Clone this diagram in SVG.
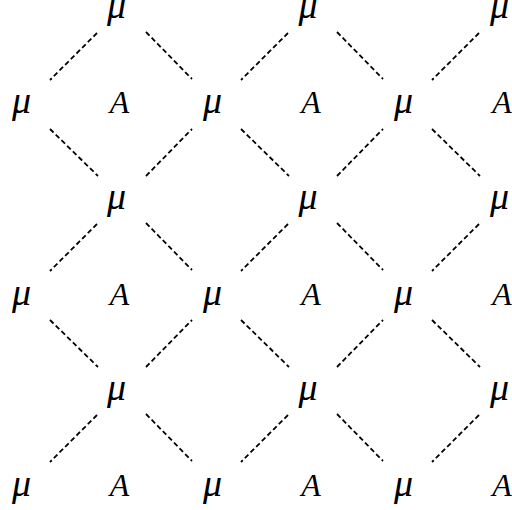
<svg xmlns="http://www.w3.org/2000/svg" width="512" height="510" viewBox="0 0 512 510">
<style>
.c line{stroke:#000;stroke-width:1.8;stroke-dasharray:5,3;fill:none}
.mu{font-family:"Liberation Serif","Times New Roman",serif;font-style:italic;font-size:38px;text-anchor:middle;fill:#000}
.aa{font-family:"Liberation Serif","Times New Roman",serif;font-style:italic;font-size:32px;text-anchor:middle;fill:#000}
</style>
<rect width="512" height="510" fill="#fff"/>
<g id="connectors" class="c">
<line x1="97" y1="33" x2="50" y2="80"/><line x1="146" y1="32" x2="192" y2="79"/>
<line x1="288" y1="33" x2="241" y2="80"/><line x1="337" y1="32" x2="383" y2="79"/>
<line x1="479" y1="33" x2="432" y2="80"/>
<line x1="50" y1="129" x2="98" y2="176"/><line x1="146" y1="176" x2="192" y2="129"/>
<line x1="241" y1="129" x2="289" y2="176"/><line x1="337" y1="176" x2="383" y2="129"/>
<line x1="432" y1="129" x2="480" y2="176"/>
<line x1="97" y1="224" x2="50" y2="271"/><line x1="146" y1="223" x2="192" y2="270"/>
<line x1="288" y1="224" x2="241" y2="271"/><line x1="337" y1="223" x2="383" y2="270"/>
<line x1="479" y1="224" x2="432" y2="271"/>
<line x1="50" y1="320" x2="98" y2="367"/><line x1="146" y1="367" x2="192" y2="320"/>
<line x1="241" y1="320" x2="289" y2="367"/><line x1="337" y1="367" x2="383" y2="320"/>
<line x1="432" y1="320" x2="480" y2="367"/>
<line x1="97" y1="415" x2="50" y2="462"/><line x1="146" y1="414" x2="192" y2="461"/>
<line x1="288" y1="415" x2="241" y2="462"/><line x1="337" y1="414" x2="383" y2="461"/>
<line x1="479" y1="415" x2="432" y2="462"/>
</g>
<g id="r0c0"><text class="mu" x="116.5" y="18">μ</text></g>
<g id="r0c1"><text class="mu" x="308" y="18">μ</text></g>
<g id="r0c2"><text class="mu" x="499.5" y="18">μ</text></g>
<g id="r1m0"><text class="mu" x="21.5" y="113">μ</text></g>
<g id="r1m1"><text class="mu" x="212.5" y="113">μ</text></g>
<g id="r1m2"><text class="mu" x="403.5" y="113">μ</text></g>
<g id="r2c0"><text class="mu" x="116.5" y="209">μ</text></g>
<g id="r2c1"><text class="mu" x="308" y="209">μ</text></g>
<g id="r2c2"><text class="mu" x="499.5" y="209">μ</text></g>
<g id="r3m0"><text class="mu" x="21.5" y="304.5">μ</text></g>
<g id="r3m1"><text class="mu" x="212.5" y="304.5">μ</text></g>
<g id="r3m2"><text class="mu" x="403.5" y="304.5">μ</text></g>
<g id="r4c0"><text class="mu" x="116.5" y="400">μ</text></g>
<g id="r4c1"><text class="mu" x="308" y="400">μ</text></g>
<g id="r4c2"><text class="mu" x="499.5" y="400">μ</text></g>
<g id="r5m0"><text class="mu" x="21.5" y="496">μ</text></g>
<g id="r5m1"><text class="mu" x="212.5" y="496">μ</text></g>
<g id="r5m2"><text class="mu" x="403.5" y="496">μ</text></g>
<g id="r1a0"><text class="aa" x="119.5" y="113">A</text></g>
<g id="r1a1"><text class="aa" x="311" y="113">A</text></g>
<g id="r1a2"><text class="aa" x="502" y="113">A</text></g>
<g id="r3a0"><text class="aa" x="119.5" y="304.5">A</text></g>
<g id="r3a1"><text class="aa" x="311" y="304.5">A</text></g>
<g id="r3a2"><text class="aa" x="502" y="304.5">A</text></g>
<g id="r5a0"><text class="aa" x="119.5" y="496">A</text></g>
<g id="r5a1"><text class="aa" x="311" y="496">A</text></g>
<g id="r5a2"><text class="aa" x="502" y="496">A</text></g>
</svg>
